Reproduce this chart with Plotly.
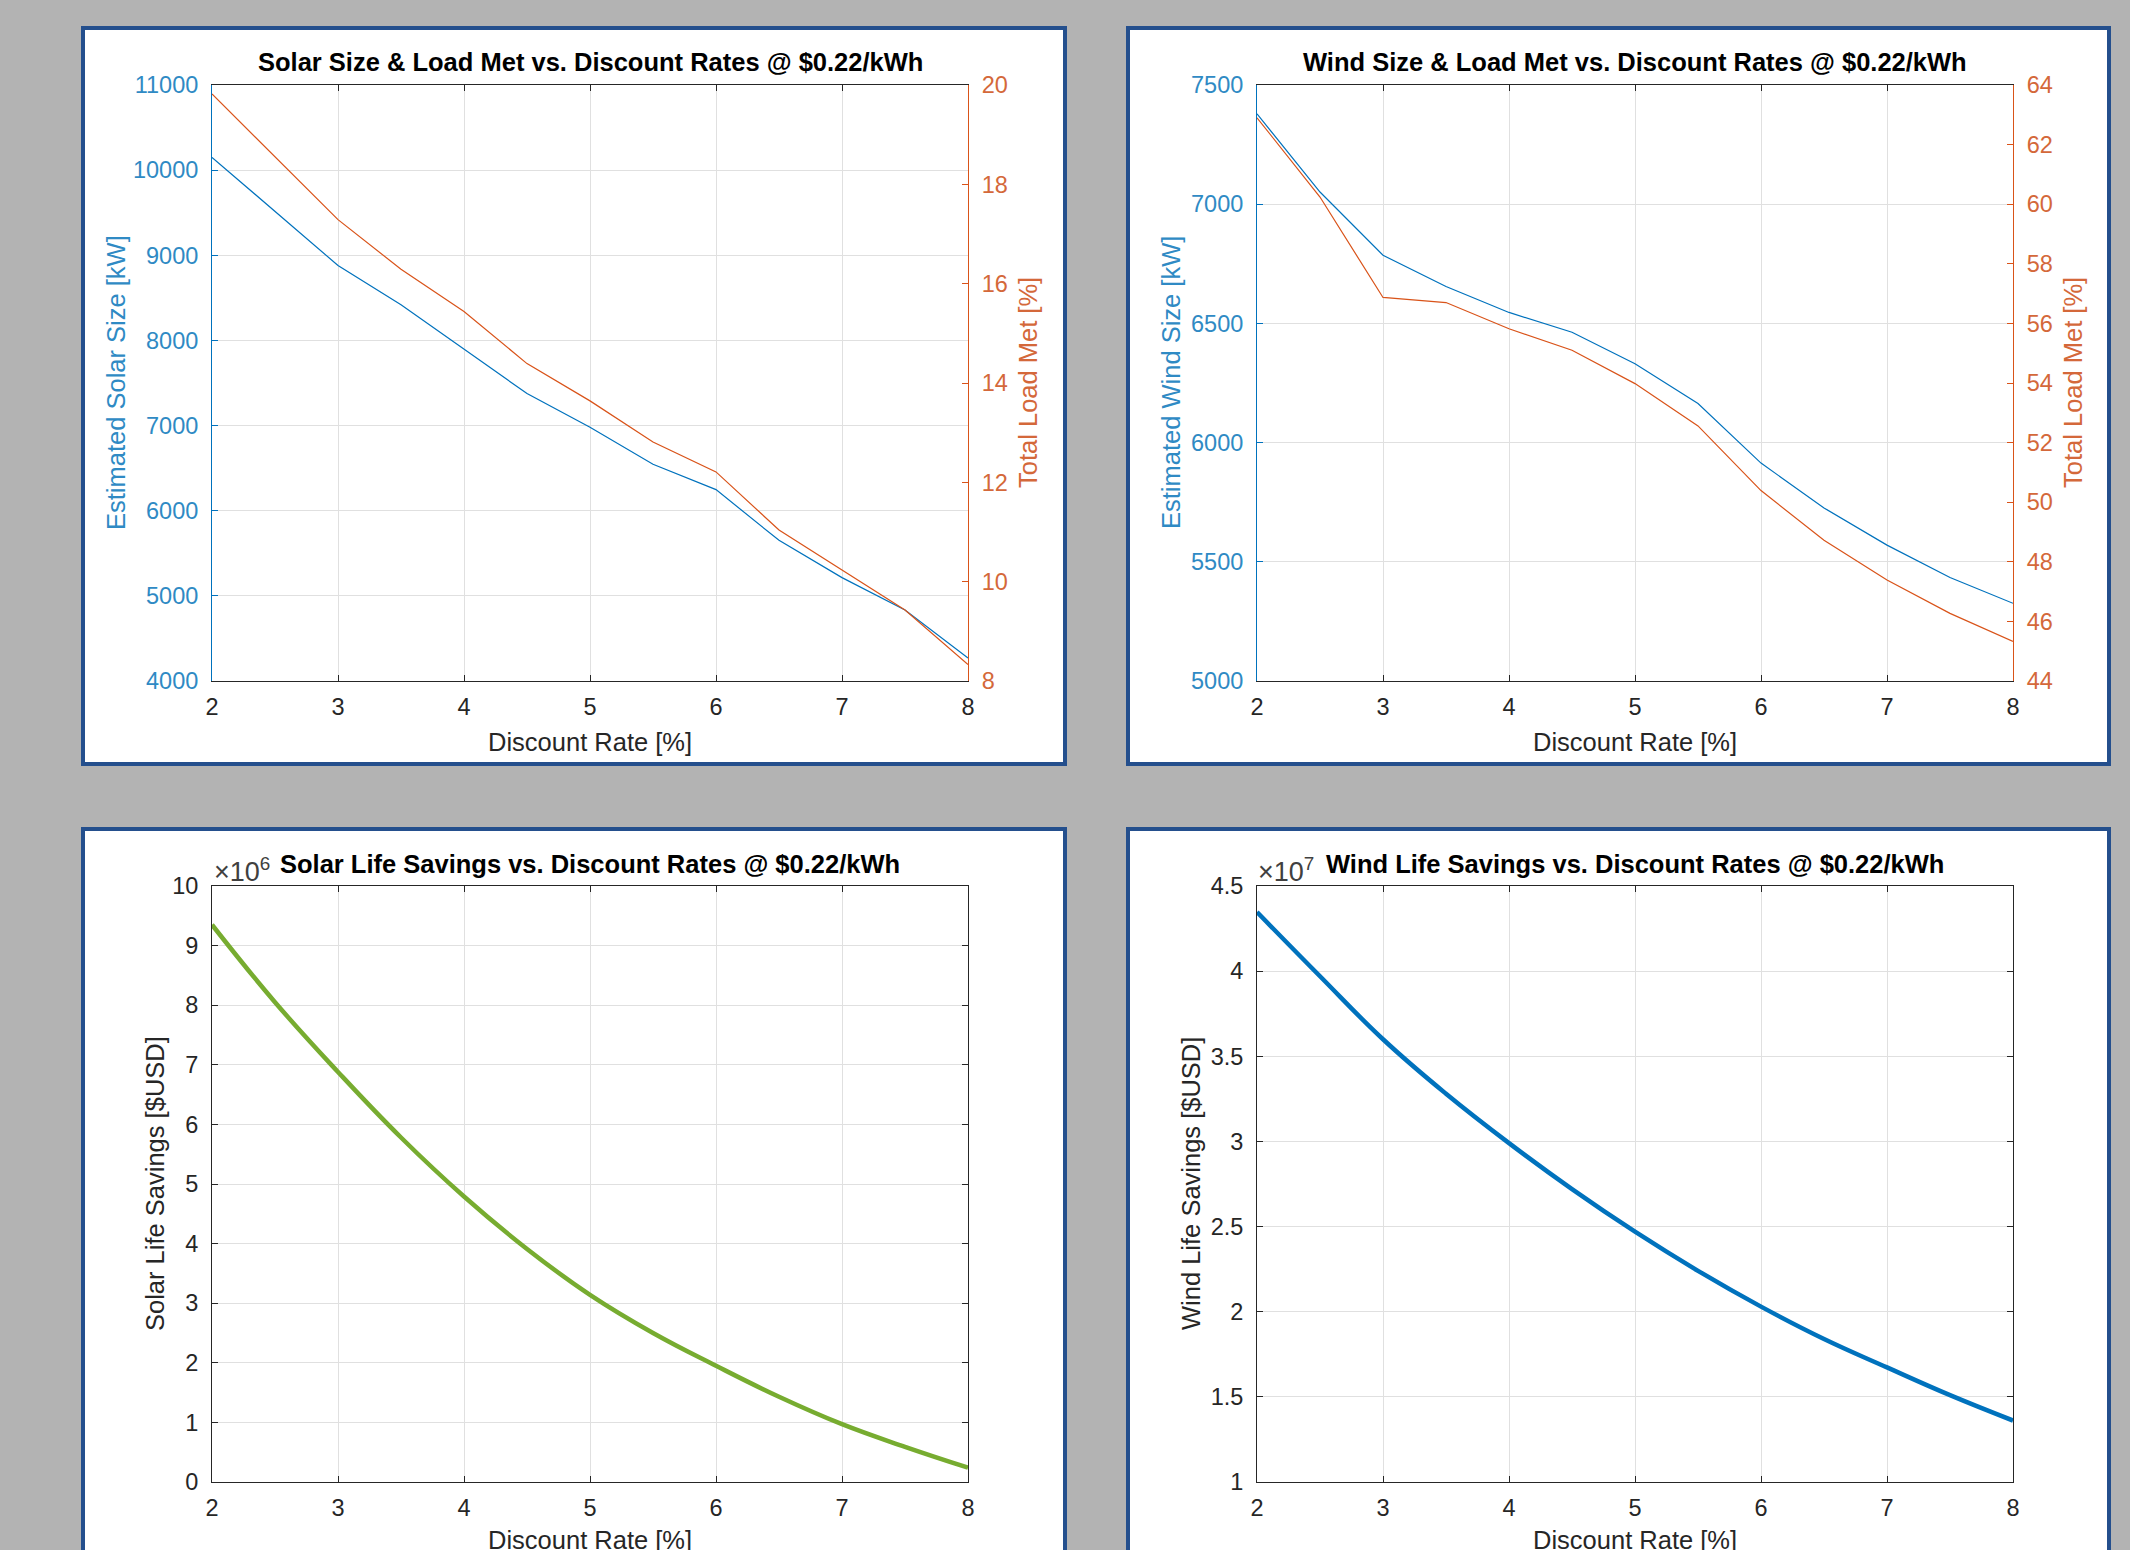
import plotly.graph_objects as go

# ---------------- data ----------------
discount_rate = [2, 2.5, 3, 3.5, 4, 4.5, 5, 5.5, 6, 6.5, 7, 7.5, 8]
x_ticks = [2, 3, 4, 5, 6, 7, 8]

solar_size_kw = [10150, 9520, 8880, 8420, 7900, 7376, 6980, 6546, 6248, 5652, 5214, 4834, 4270]
solar_load_met = [19.82, 18.56, 17.29, 16.29, 15.44, 14.39, 13.64, 12.81, 12.21, 11.04, 10.23, 9.43, 8.33]

wind_size_kw = [7379, 7051, 6786, 6655, 6546, 6463, 6331, 6164, 5914, 5726, 5570, 5434, 5326]
wind_load_met = [62.9, 60.24, 56.87, 56.7, 55.82, 55.1, 53.98, 52.56, 50.39, 48.72, 47.39, 46.27, 45.33]

solar_savings_e6 = [9.35, 8.05, 6.88, 5.78, 4.79, 3.91, 3.14, 2.50, 1.95, 1.43, 0.97, 0.59, 0.24]   # x10^6 USD
wind_savings_e7 = [4.347, 3.97, 3.60, 3.28, 2.99, 2.72, 2.47, 2.24, 2.03, 1.84, 1.673, 1.51, 1.361]  # x10^7 USD

W, H = 2130, 1550
FONT = "Liberation Sans, Arial, sans-serif"
BLUE = "#0072BD"
ORANGE = "#D95319"
BLUE_TXT = "#2f8ac4"
ORANGE_TXT = "#d4683a"
GREEN = "#77AC30"
DARK = "#262626"
GRID = "#e0e0e0"
BORDER = "#244f8d"
TICK_SIZE = 23.5
LABEL_SIZE = 25.5
TITLE_SIZE = 25.5


def px(x):
    return x / W


def py(y):
    return 1 - y / H


fig = go.Figure()

# panel geometry (pixels)
PL_L, PL_R = 212, 968
PR_L, PR_R = 1257, 2013
TOP_T, TOP_B = 85, 681
BOT_T, BOT_B = 886, 1482

common_x = dict(range=[2, 8], tickvals=x_ticks, showgrid=True, gridcolor=GRID, gridwidth=1,
                showline=True, linecolor=DARK, linewidth=1, mirror="ticks", ticks="inside",
                ticklen=6, tickcolor=DARK, zeroline=False, fixedrange=True,
                tickfont=dict(family=FONT, size=TICK_SIZE, color=DARK), ticklabelstandoff=5)


def yax(domain, rng, dtick, color, txtcolor, side="left", grid=True, overlay=None, anchor=None, mirror=False):
    d = dict(domain=domain, range=rng, dtick=dtick, showgrid=grid, gridcolor=GRID, gridwidth=1,
             showline=True, linecolor=color, linewidth=1, ticks="inside", ticklen=6,
             tickcolor=color, zeroline=False, side=side, mirror=mirror, fixedrange=True,
             tickformat="~g" if dtick < 1 else "d",
             tickfont=dict(family=FONT, size=TICK_SIZE, color=txtcolor), ticklabelstandoff=8)
    if overlay:
        d["overlaying"] = overlay
    if anchor:
        d["anchor"] = anchor
    return d


top_dom = [py(TOP_B), py(TOP_T)]
bot_dom = [py(BOT_B), py(BOT_T)]

layout = dict(
    width=W, height=H, margin=dict(l=0, r=0, t=0, b=0, pad=0, autoexpand=False),
    paper_bgcolor="#b3b3b3", plot_bgcolor="white", showlegend=False,
    xaxis=dict(common_x, domain=[px(PL_L), px(PL_R)], anchor="y"),
    yaxis=yax(top_dom, [4000, 11000], 1000, BLUE, BLUE_TXT, anchor="x"),
    yaxis2=yax(top_dom, [8, 20], 2, ORANGE, ORANGE_TXT, side="right", grid=False, overlay="y", anchor="x"),
    xaxis2=dict(common_x, domain=[px(PR_L), px(PR_R)], anchor="y3"),
    yaxis3=yax(top_dom, [5000, 7500], 500, BLUE, BLUE_TXT, anchor="x2"),
    yaxis4=yax(top_dom, [44, 64], 2, ORANGE, ORANGE_TXT, side="right", grid=False, overlay="y3", anchor="x2"),
    xaxis3=dict(common_x, domain=[px(PL_L), px(PL_R)], anchor="y5"),
    yaxis5=yax(bot_dom, [0, 10], 1, DARK, DARK, anchor="x3", mirror="ticks"),
    xaxis4=dict(common_x, domain=[px(PR_L), px(PR_R)], anchor="y6"),
    yaxis6=yax(bot_dom, [1, 4.5], 0.5, DARK, DARK, anchor="x4", mirror="ticks"),
)
fig.update_layout(**layout)

# traces
fig.add_trace(go.Scatter(x=discount_rate, y=solar_size_kw, xaxis="x", yaxis="y", mode="lines",
                         line=dict(color=BLUE, width=1.2)))
fig.add_trace(go.Scatter(x=discount_rate, y=solar_load_met, xaxis="x", yaxis="y2", mode="lines",
                         line=dict(color=ORANGE, width=1.2)))
fig.add_trace(go.Scatter(x=discount_rate, y=wind_size_kw, xaxis="x2", yaxis="y3", mode="lines",
                         line=dict(color=BLUE, width=1.2)))
fig.add_trace(go.Scatter(x=discount_rate, y=wind_load_met, xaxis="x2", yaxis="y4", mode="lines",
                         line=dict(color=ORANGE, width=1.2)))
fig.add_trace(go.Scatter(x=discount_rate, y=solar_savings_e6, xaxis="x3", yaxis="y5", mode="lines",
                         line=dict(color=GREEN, width=4.5, shape="spline", smoothing=1.2)))
fig.add_trace(go.Scatter(x=discount_rate, y=wind_savings_e7, xaxis="x4", yaxis="y6", mode="lines",
                         line=dict(color=BLUE, width=4.5, shape="spline", smoothing=1.2)))

# panel backgrounds with borders
shapes = []
for (x0, x1, y0, y1) in [(83, 1065, 28, 764), (1128, 2109, 28, 764), (83, 1065, 829, 1600), (1128, 2109, 829, 1600)]:
    shapes.append(dict(type="rect", xref="paper", yref="paper", x0=px(x0), x1=px(x1), y0=py(y1), y1=py(y0),
                       fillcolor="white", line=dict(color=BORDER, width=4), layer="below"))
fig.update_layout(shapes=shapes)

ann = []


def text(x, y, s, size, color=DARK, bold=False, angle=0, xanchor="center", yanchor="middle"):
    ann.append(dict(x=px(x), y=py(y), xref="paper", yref="paper", text=("<b>%s</b>" % s) if bold else s,
                    showarrow=False, textangle=angle, xanchor=xanchor, yanchor=yanchor,
                    font=dict(family=FONT, size=size, color=color)))


# titles
text((PL_L + PL_R) / 2, 62, "Solar Size &amp; Load Met vs. Discount Rates @ $0.22/kWh", TITLE_SIZE, "black", bold=True)
text((PR_L + PR_R) / 2, 62, "Wind Size &amp; Load Met vs. Discount Rates @ $0.22/kWh", TITLE_SIZE, "black", bold=True)
text((PL_L + PL_R) / 2, 864, "Solar Life Savings vs. Discount Rates @ $0.22/kWh", TITLE_SIZE, "black", bold=True)
text((PR_L + PR_R) / 2, 864, "Wind Life Savings vs. Discount Rates @ $0.22/kWh", TITLE_SIZE, "black", bold=True)

# x titles
for cx in [(PL_L + PL_R) / 2, (PR_L + PR_R) / 2]:
    text(cx, 742, "Discount Rate [%]", LABEL_SIZE, DARK)
    text(cx, 1540, "Discount Rate [%]", LABEL_SIZE, DARK)

# y titles
text(116, (TOP_T + TOP_B) / 2, "Estimated Solar Size [kW]", LABEL_SIZE, BLUE_TXT, angle=-90)
text(1028, (TOP_T + TOP_B) / 2, "Total Load Met [%]", LABEL_SIZE, ORANGE_TXT, angle=-90)
text(1171, (TOP_T + TOP_B) / 2, "Estimated Wind Size [kW]", LABEL_SIZE, BLUE_TXT, angle=-90)
text(2073, (TOP_T + TOP_B) / 2, "Total Load Met [%]", LABEL_SIZE, ORANGE_TXT, angle=-90)
text(155, (BOT_T + BOT_B) / 2, "Solar Life Savings [$USD]", LABEL_SIZE, DARK, angle=-90)
text(1191, (BOT_T + BOT_B) / 2, "Wind Life Savings [$USD]", LABEL_SIZE, DARK, angle=-90)

# exponent labels
text(212, 889, "×10<sup>6</sup>", 27, "#404040", xanchor="left", yanchor="bottom")
text(1256, 889, "×10<sup>7</sup>", 27, "#404040", xanchor="left", yanchor="bottom")

fig.update_layout(annotations=ann)

fig.write_html(
    "out.html",
    config={"displayModeBar": False, "staticPlot": True},
    post_script="document.body.style.margin='0';document.body.style.padding='0';"
                "document.body.style.overflow='hidden';document.documentElement.style.overflow='hidden';",
)
